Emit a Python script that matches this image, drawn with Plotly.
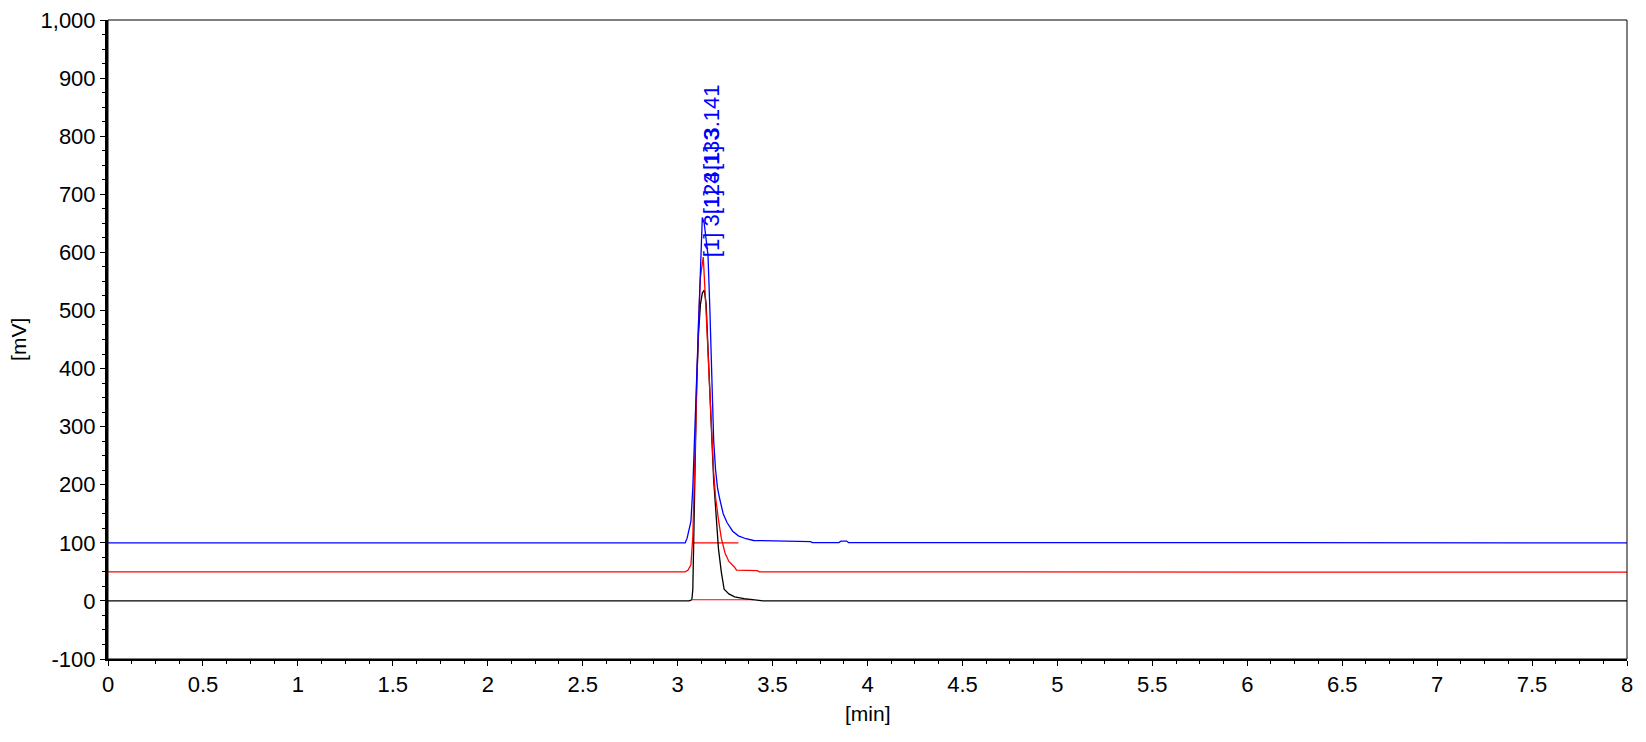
import plotly.graph_objects as go

# chromatogram overlay, 3 runs, values in mV
BLUE_X = [0.0, 3.04, 3.05, 3.06, 3.07, 3.08, 3.09, 3.10, 3.11, 3.12, 3.13, 3.14, 3.15, 3.16,
          3.17, 3.18, 3.19, 3.20, 3.21, 3.22, 3.24, 3.26, 3.29, 3.32, 3.36, 3.40, 3.70, 3.71,
          3.85, 3.86, 3.89, 3.90, 8.0]
BLUE_Y = [100, 100, 108, 122, 137, 195, 290, 388, 498, 565, 660, 650, 625, 595,
          500, 390, 275, 225, 195, 178, 150, 135, 120, 112, 107, 104, 102, 100.5,
          100.5, 103, 103, 100.5, 100]

RED_X = [0.0, 3.04, 3.055, 3.07, 3.08, 3.09, 3.10, 3.11, 3.12, 3.135, 3.15, 3.16, 3.175,
         3.19, 3.20, 3.215, 3.23, 3.25, 3.27, 3.30, 3.31, 3.42, 3.43, 8.0]
RED_Y = [50, 50, 53, 62, 110, 250, 382, 480, 557, 592, 498, 420, 323,
         220, 178, 140, 108, 82, 68, 58, 53, 52, 50, 49.5]

BLACK_X = [0.0, 3.06, 3.075, 3.08, 3.09, 3.10, 3.11, 3.12, 3.13, 3.14, 3.15, 3.165, 3.18,
           3.19, 3.20, 3.215, 3.23, 3.245, 3.27, 3.30, 3.35, 3.40, 3.45, 8.0]
BLACK_Y = [0, 0, 2, 20, 195, 370, 460, 510, 530, 535, 512, 380, 280,
           207, 160, 90, 50, 20, 12, 7, 4, 2, 0, 0]

# integration baselines (drawn red by the software)
BASE_X = [[3.08, 3.32], [3.08, 3.40]]
BASE_Y = [[100, 100], [2, 2]]

# peak labels
LABEL_TEXT = ["[1] 3.124", "[1] 3.133", "[1] 3.141"]
LABEL_X = [3.175, 3.175, 3.175]
LABEL_Y = [588, 662, 738]

Y_TICKS = list(range(-100, 1001, 100))
Y_TICK_TEXT = ["-100", "0", "100", "200", "300", "400", "500", "600", "700", "800",
               "900", "1,000"]
X_TICKS = [i * 0.5 for i in range(17)]

FONT = "Liberation Sans, Arial, sans-serif"

fig = go.Figure()
for bx, by in zip(BASE_X, BASE_Y):
    fig.add_trace(go.Scatter(x=bx, y=by, mode="lines",
                             line=dict(color="#ff0000", width=1.2), showlegend=False))
fig.add_trace(go.Scatter(x=BLACK_X, y=BLACK_Y, mode="lines",
                         line=dict(color="#000000", width=1.3), showlegend=False))
fig.add_trace(go.Scatter(x=RED_X, y=RED_Y, mode="lines",
                         line=dict(color="#ff0000", width=1.3), showlegend=False))
fig.add_trace(go.Scatter(x=BLUE_X, y=BLUE_Y, mode="lines",
                         line=dict(color="#0000ff", width=1.3), showlegend=False))

for t, lx, ly in zip(LABEL_TEXT, LABEL_X, LABEL_Y):
    fig.add_annotation(x=lx, y=ly, text=t, textangle=-90, showarrow=False,
                       xanchor="center", yanchor="bottom",
                       font=dict(family=FONT, size=22, color="#0000ff"))

# axis titles
fig.add_annotation(x=-0.059, y=0.5, xref="paper", yref="paper", text="[mV]",
                   textangle=-90, showarrow=False, xanchor="center", yanchor="middle",
                   font=dict(family=FONT, size=21, color="#000000"))
fig.add_annotation(x=0.5, y=-0.085, xref="paper", yref="paper", text="[min]",
                   showarrow=False, xanchor="center", yanchor="middle",
                   font=dict(family=FONT, size=21, color="#000000"))

# thin frame on top / right
fig.add_shape(type="rect", xref="paper", yref="paper", x0=0, y0=0, x1=1, y1=1,
              line=dict(color="#000000", width=1), layer="above")

fig.update_layout(
    width=1646, height=742,
    margin=dict(l=100, r=27, t=12, b=91, autoexpand=False),
    paper_bgcolor="white", plot_bgcolor="white",
    font=dict(family=FONT, size=22, color="#000000"),
    xaxis=dict(range=[0, 8], tickvals=X_TICKS, ticks="outside", ticklen=5,
               tickwidth=1, tickcolor="#000000", showgrid=False, zeroline=False,
               showline=True, linecolor="#000000", linewidth=2,
               ticklabeloverflow="allow", automargin=False,
               minor=dict(dtick=0.125, ticks="outside", ticklen=3, tickcolor="#000000")),
    yaxis=dict(range=[-100, 1000], tickvals=Y_TICKS, ticktext=Y_TICK_TEXT, ticks="outside",
               ticklen=5, tickwidth=1, tickcolor="#000000", showgrid=False,
               zeroline=False, showline=True, linecolor="#000000", linewidth=3,
               ticklabeloverflow="allow", automargin=False,
               minor=dict(dtick=25, ticks="outside", ticklen=3, tickcolor="#000000")),
)

fig.write_html("out.html")
